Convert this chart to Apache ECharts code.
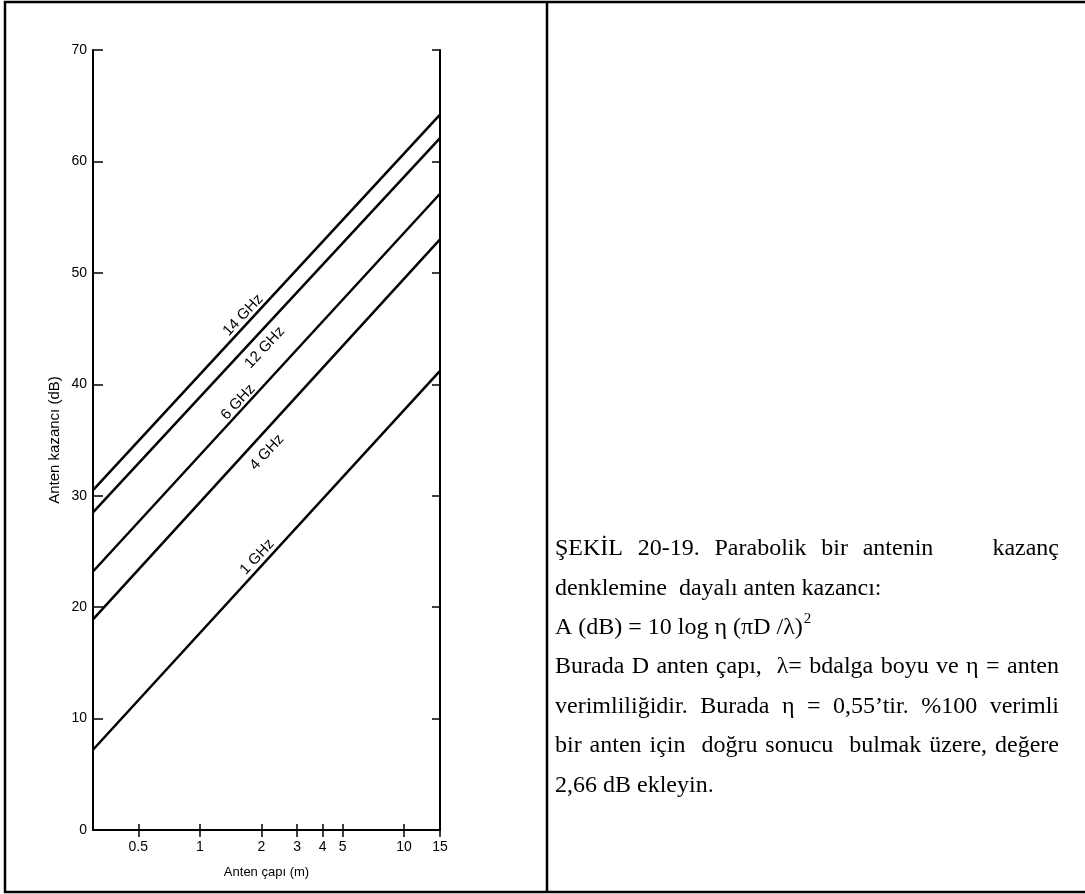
<!DOCTYPE html>
<html><head><meta charset="utf-8">
<script src="https://cdn.jsdelivr.net/npm/echarts@6/dist/echarts.min.js"></script>
<style>html,body{margin:0;padding:0;background:#fff}#c{width:1085px;height:894px}</style>
</head><body><div id="c"></div>
<script>
// ---- data ----
const diameters = [0.3, 15];                 // Anten çapı (m) at the plot edges
const frequencies = ['14 GHz', '12 GHz', '6 GHz', '4 GHz', '1 GHz'];
const gain14 = [30.5, 64.2];
const gain12 = [28.5, 62.1];
const gain6  = [23.2, 57.1];
const gain4  = [18.9, 53.0];
const gain1  = [7.2, 41.2];
const xTickValues = [0.5, 1, 2, 3, 4, 5, 10, 15];
const yTickValues = [0, 10, 20, 30, 40, 50, 60, 70];
const labelAnchors = [[1.63, 46.2], [2.08, 43.3], [1.54, 38.4], [2.13, 33.9], [1.91, 24.5]];
const captionLines = [
  'ŞEKİL 20-19. Parabolik bir antenin    kazanç',
  'denklemine  dayalı anten kazancı:',
  'A (dB) = 10 log η (πD /λ)',
  'Burada D anten çapı,  λ= bdalga boyu ve η = anten',
  'verimliliğidir. Burada η = 0,55’tir. %100 verimli',
  'bir anten için  doğru sonucu  bulmak üzere, değere',
  '2,66 dB ekleyin.'
];
const captionJustified = [true, false, false, true, true, true, false];
const captionSup = ['', '', '2', '', '', '', ''];

const gains = [gain14, gain12, gain6, gain4, gain1];

const chart = echarts.init(document.getElementById('c'), null, {renderer: 'canvas'});
const FONT = '"Liberation Sans", Arial, sans-serif';
const SERIF = '"Liberation Serif", "Times New Roman", serif';

const series = gains.map((g, i) => ({
  type: 'line',
  name: frequencies[i],
  data: diameters.map((d, j) => [d, g[j]]),
  symbol: 'none',
  silent: true,
  lineStyle: {color: '#000', width: 2.5},
  markPoint: {
    silent: true,
    symbol: 'circle',
    symbolSize: 0,
    data: [{coord: labelAnchors[i], name: frequencies[i]}],
    label: {show: true, position: 'inside', formatter: frequencies[i], rotate: 47,
            color: '#000', fontSize: 15, fontFamily: FONT}
  }
}));

// caption text (justified lines positioned word by word)
const mctx = document.createElement('canvas').getContext('2d');
const CAP_FONT_SIZE = 24;
const capFont = CAP_FONT_SIZE + 'px ' + SERIF;
mctx.font = capFont;
const capLeft = 555, capRight = 1059, capTop = 549, capStep = 39.4;
const graphics = [];
captionLines.forEach((line, i) => {
  const y = capTop + i * capStep;
  if (captionJustified[i]) {
    const words = line.split(' ');
    const widths = words.map(w => mctx.measureText(w).width);
    const total = widths.reduce((a, b) => a + b, 0);
    const gap = (capRight - capLeft - total) / (words.length - 1);
    let x = capLeft;
    words.forEach((w, k) => {
      if (w) graphics.push({type: 'text', x: x, y: y, silent: true,
        style: {text: w, font: capFont, fill: '#000', align: 'left', verticalAlign: 'middle'}});
      x += widths[k] + gap;
    });
  } else {
    graphics.push({type: 'text', x: capLeft, y: y, silent: true,
      style: {text: line, font: capFont, fill: '#000', align: 'left', verticalAlign: 'middle'}});
    if (captionSup[i]) {
      const w = mctx.measureText(line).width;
      graphics.push({type: 'text', x: capLeft + w + 1, y: y - 9, silent: true,
        style: {text: captionSup[i], font: '15px ' + SERIF, fill: '#000', align: 'left', verticalAlign: 'middle'}});
    }
  }
});
// table frame
graphics.push({type: 'rect', silent: true, shape: {x: 5, y: 2, width: 1090, height: 890},
  style: {fill: 'none', stroke: '#000', lineWidth: 2.5}});
graphics.push({type: 'line', silent: true, shape: {x1: 547, y1: 2, x2: 547, y2: 892},
  style: {stroke: '#000', lineWidth: 2.5}});

const axisLineStyle = {show: true, lineStyle: {color: '#000', width: 2}};
const option = {
  animation: false,
  backgroundColor: '#fff',
  grid: {left: 93, right: 645, top: 50, bottom: 64, containLabel: false, outerBoundsMode: 'none'},
  xAxis: [{
    type: 'log', logBase: 10, min: diameters[0], max: diameters[1], position: 'bottom',
    axisLine: axisLineStyle,
    axisTick: {show: true, inside: true, length: 6, lineStyle: {color: '#000', width: 1.5}, customValues: xTickValues},
    minorTick: {show: false}, splitLine: {show: false},
    axisLabel: {show: true, customValues: xTickValues, formatter: v => String(v), color: '#000',
                fontSize: 14, fontFamily: FONT, margin: 10},
    name: 'Anten çapı (m)', nameLocation: 'middle', nameGap: 36,
    nameTextStyle: {color: '#000', fontSize: 13, fontFamily: FONT}
  }, {
    type: 'log', logBase: 10, min: diameters[0], max: diameters[1], position: 'top',
    axisLine: axisLineStyle,
    axisTick: {show: true, inside: true, length: 7, lineStyle: {color: '#000', width: 1.5}, customValues: xTickValues},
    axisLabel: {show: false}, splitLine: {show: false}
  }],
  yAxis: [{
    type: 'value', min: 0, max: 70, interval: 10, position: 'left',
    axisLine: axisLineStyle,
    axisTick: {show: true, inside: true, length: 10, lineStyle: {color: '#000', width: 1.5}},
    splitLine: {show: false},
    axisLabel: {color: '#000', fontSize: 14, fontFamily: FONT, margin: 6,
                customValues: yTickValues},
    name: 'Anten kazancı (dB)', nameLocation: 'middle', nameRotate: 90, nameGap: 31,
    nameTextStyle: {color: '#000', fontSize: 15, fontFamily: FONT}
  }, {
    type: 'value', min: 0, max: 70, interval: 10, position: 'right',
    axisLine: axisLineStyle,
    axisTick: {show: true, inside: true, length: 8, lineStyle: {color: '#000', width: 1.5}},
    axisLabel: {show: false}, splitLine: {show: false}
  }],
  series: series,
  graphic: graphics
};
chart.setOption(option);
</script></body></html>
